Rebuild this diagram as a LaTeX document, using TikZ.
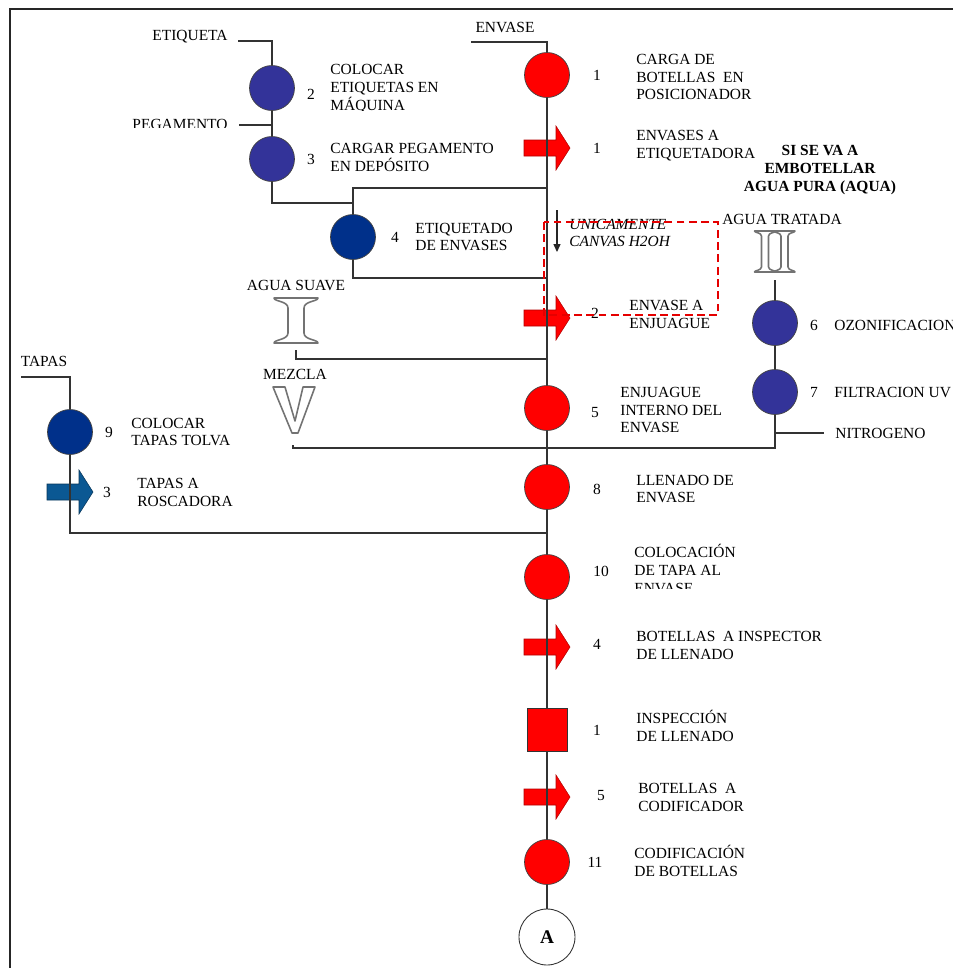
\documentclass[tikz,border=0pt]{standalone}
\usepackage{fontspec}
\setmainfont{Liberation Serif}
\usetikzlibrary{arrows.meta}

\definecolor{opblue}{HTML}{333399}
\definecolor{opnavy}{HTML}{00308A}
\definecolor{tapblue}{HTML}{0B5893}

% block arrow (transport symbol) centred on a named coordinate
\newcommand\blkarrow[3]{%
  \coordinate (#1) at #2;
  \filldraw[#3] ([shift={(-23,-8)}]#1) -- ([shift={(9,-8)}]#1) -- ([shift={(9,-22)}]#1)
    -- ([shift={(23,0)}]#1) -- ([shift={(9,22)}]#1) -- ([shift={(9,8)}]#1)
    -- ([shift={(-23,8)}]#1) -- cycle;}

% outlined serif "I" glyph: centre, half width, stem half width, half height, fillet length
\newcommand\serifI[5]{%
  \begin{scope}[shift={#1}]
  \path[glyph] (-#2,-#4) -- (#2,-#4) .. controls (#2,-#4+0.35*#5) and (#3,-#4+0.3*#5) .. (#3,-#4+#5)
    -- (#3,#4-#5) .. controls (#3,#4-0.3*#5) and (#2,#4-0.35*#5) .. (#2,#4) -- (-#2,#4)
    .. controls (-#2,#4-0.35*#5) and (-#3,#4-0.3*#5) .. (-#3,#4-#5) -- (-#3,-#4+#5)
    .. controls (-#3,-#4+0.3*#5) and (-#2,-#4+0.35*#5) .. cycle;
  \end{scope}}

\begin{document}
\begin{tikzpicture}[x=0.02cm,y=-0.02cm,
  txt/.style={font=\fontsize{8.8}{10.2}\selectfont, inner sep=0pt, align=left, anchor=west},
  ctxt/.style={font=\fontsize{8.8}{10.2}\selectfont, inner sep=0pt, align=center},
  num/.style={font=\fontsize{8.8}{10.2}\selectfont, inner sep=0pt},
  op/.style={circle, minimum size=0.9cm, inner sep=0pt, draw=black!75, line width=0.4pt},
  redop/.style={op, fill=red},
  blueop/.style={op, fill=opblue},
  navyop/.style={op, fill=opnavy},
  inspbox/.style={rectangle, minimum width=0.8cm, minimum height=0.86cm, inner sep=0pt,
    draw=black!80, line width=0.5pt, fill=red},
  connector/.style={circle, minimum size=1.12cm, inner sep=0pt, draw=black!80,
    line width=0.5pt, fill=white, font=\fontsize{11}{12}\selectfont\bfseries},
  flow/.style={draw=black!80, line width=0.75pt},
  redarw/.style={fill=red, draw=red!70!black, line width=0.3pt},
  bluearw/.style={fill=tapblue, draw=tapblue!60!black, line width=0.3pt},
  glyph/.style={fill=white, draw=black!55, line width=0.9pt, line join=round},
]
\useasboundingbox (0,0) rectangle (953,968);

% frame
\draw[line width=1.1pt, black!85] (10,968) -- (10,9) -- (953,9);

% ---------- transport arrows (drawn below the flow lines) ----------
\blkarrow{a1}{(547,148)}{redarw}
\blkarrow{a2}{(547,318)}{redarw}
\blkarrow{a4}{(547,647)}{redarw}
\blkarrow{a5}{(547,797)}{redarw}
\blkarrow{a3}{(70,492)}{bluearw}

% ---------- main column ----------
\coordinate (envL) at (471,42);
\coordinate (envT) at (547,42);
\node[redop] (c1) at (547,75) {};
\coordinate (j1) at (547,188);
\coordinate (j2) at (547,278);
\coordinate (j3) at (547,359);
\node[redop] (c5) at (547,408) {};
\coordinate (j4) at (547,448);
\node[redop] (c8) at (547,487) {};
\coordinate (j5) at (547,533);
\node[redop] (c10) at (547,577) {};
\node[inspbox] (sq) at (547,730) {};
\node[redop] (c11) at (547,862) {};
\node[connector] (cA) at (547,937) {A};

% ---------- labelling branch ----------
\coordinate (et1) at (238,41);
\node[blueop] (c2) at (272,88) {};
\coordinate (pg1) at (239,125);
\coordinate (pgj) at (272,125);
\node[blueop] (c3) at (272,159) {};
\coordinate (b1) at (353,188);
\coordinate (b3) at (353,203);
\node[navyop] (c4) at (353,237) {};
\coordinate (b2) at (353,278);

% ---------- water branch ----------
\coordinate (iiB) at (775,280);
\node[blueop] (c6) at (775,323) {};
\node[blueop] (c7) at (775,392) {};
\coordinate (n2) at (775,433);
\coordinate (n3) at (824,433);
\coordinate (n1) at (775,448);
\coordinate (as1) at (296,350);
\coordinate (as2) at (296,359);
\coordinate (mz1) at (293,445);

% ---------- caps branch ----------
\coordinate (tp1) at (21,377);
\node[navyop] (c9) at (70,432) {};
\coordinate (t2) at (70,533);

% ---------- flow lines ----------
\draw[flow] (envL) -- (envT) -- (c1);
\draw[flow] (c1) -- (a1) -- (j1) -- (j2) -- (a2) -- (j3) -- (c5);
\draw[flow] (c5) -- (j4) -- (c8);
\draw[flow] (c8) -- (j5) -- (c10);
\draw[flow] (c10) -- (a4) -- (sq);
\draw[flow] (sq) -- (a5) -- (c11);
\draw[flow] (c11) -- (cA);

\draw[flow] (et1) -| (c2);
\draw[flow] (c2) -- (pgj) -- (c3);
\draw[flow] (pg1) -- (pgj);
\draw[flow] (c3) |- (b3);
\draw[flow] (j1) -- (b1) -- (c4);
\draw[flow] (c4) -- (b2) -- (j2);

\draw[flow] (iiB) -- (c6);
\draw[flow] (c6) -- (c7);
\draw[flow] (c7) -- (n1) -- (j4);
\draw[flow] (n2) -- (n3);
\draw[flow] (as1) -- (as2) -- (j3);
\draw[flow] (mz1) |- (j4);

\draw[flow] (tp1) -| (c9);
\draw[flow] (c9) -- (a3) -- (t2) -- (j5);

% ---------- outlined water symbols ----------
% I  (agua suave)
\serifI{(296,320.5)}{22}{8}{22.5}{10}
% II  (agua tratada)
\serifI{(765,251.5)}{10.5}{3.5}{20.5}{5}
\serifI{(784.5,251.5)}{10.5}{3.5}{20.5}{5}
% V  (mezcla)
\path[glyph] (273,387) -- (285,387) -- (295,421) -- (303,387) -- (315,387)
  -- (298,433) -- (292,433) -- cycle;

% ---------- numbers ----------
\node[num] (n-c1) at (597,75) {1};
\node[num] (n-a1) at (597,148) {1};
\node[num] (n-c2) at (311,94) {2};
\node[num] (n-c3) at (311,159) {3};
\node[num] (n-c4) at (395,237) {4};
\node[num] (n-a2) at (595,313) {2};
\node[num] (n-c6) at (814,325) {6};
\node[num] (n-c7) at (814,392) {7};
\node[num] (n-c5) at (595,413) {5};
\node[num] (n-c9) at (109,432) {9};
\node[num] (n-a3) at (107,492) {3};
\node[num] (n-c8) at (597,489) {8};
\node[num] (n-c10) at (601,571) {10};
\node[num] (n-a4) at (597,644) {4};
\node[num] (n-sq) at (597,730) {1};
\node[num] (n-a5) at (601,796) {5};
\node[num] (n-c11) at (595,862) {11};

% ---------- texts ----------
\node[ctxt] (t-env) at (505,27) {ENVASE};
\node[ctxt] (t-eti) at (190,37) {ETIQUETA};
\begin{scope}
  \clip (120,110) rectangle (240,127.5);
  \node[ctxt] (t-peg) at (180,124) {PEGAMENTO};
\end{scope}
\node[txt] (t-c1) at (636,77) {CARGA DE\\BOTELLAS\ \ EN\\POSICIONADOR};
\node[txt] (t-a1) at (636,146) {ENVASES A\\ETIQUETADORA};
\begin{scope}
  \clip (320,55) rectangle (470,110);
  \node[txt] (t-c2) at (330,89) {COLOCAR\\ETIQUETAS EN\\MÁQUINA};
\end{scope}
\node[txt] (t-c3) at (330,157) {CARGAR PEGAMENTO\\EN DEPÓSITO};
\node[txt] (t-c4) at (415,237) {ETIQUETADO\\DE ENVASES};
\node[ctxt, font=\fontsize{8.8}{10.2}\selectfont\bfseries] (t-si) at (820,170)
  {SI SE VA A\\EMBOTELLAR\\AGUA PURA (AQUA)};
\node[ctxt] (t-at) at (782,219) {AGUA TRATADA};
\node[txt, font=\fontsize{8.8}{10.2}\selectfont\itshape] (t-uni) at (569,233)
  {UNICAMENTE\\CANVAS H2OH};
\node[txt] (t-a2) at (629,314) {ENVASE A\\ENJUAGUE};
\node[txt] (t-c6) at (834,325) {OZONIFICACION};
\node[txt] (t-c7) at (834,392) {FILTRACION UV};
\node[txt] (t-c5) at (620,410) {ENJUAGUE\\INTERNO DEL\\ENVASE};
\node[txt] (t-nit) at (835,433) {NITROGENO};
\node[ctxt] (t-as) at (296,285) {AGUA SUAVE};
\node[ctxt] (t-mz) at (295,374) {MEZCLA};
\node[ctxt] (t-tap) at (44,361) {TAPAS};
\node[txt] (t-c9) at (131,432) {COLOCAR\\TAPAS TOLVA};
\node[txt] (t-a3) at (137,492) {TAPAS A\\ROSCADORA};
\node[txt] (t-c8) at (636,489) {LLENADO DE\\ENVASE};
\begin{scope}
  \clip (620,540) rectangle (800,588.5);
  \node[txt] (t-c10) at (634,569) {COLOCACIÓN\\DE TAPA AL\\ENVASE};
\end{scope}
\node[txt] (t-a4) at (636,645) {BOTELLAS\ \ A INSPECTOR\\DE LLENADO};
\node[txt] (t-sq) at (636,726) {INSPECCIÓN\\DE LLENADO};
\node[txt] (t-a5) at (638,797) {BOTELLAS\ \ A\\CODIFICADOR};
\node[txt] (t-c11) at (634,861) {CODIFICACIÓN\\DE BOTELLAS};

% ---------- optional route marker ----------
\coordinate (da1) at (557,210);
\coordinate (da2) at (557,252);
\draw[black!85, line width=0.6pt, -{Triangle[length=4.5pt,width=4pt]}] (da1) -- (da2);
\coordinate (bx1) at (544,222);
\coordinate (bx2) at (718,315);
\draw[red!90!black, line width=1pt, dash pattern=on 4.5pt off 2.5pt] (bx1) rectangle (bx2);

\end{tikzpicture}
\end{document}
